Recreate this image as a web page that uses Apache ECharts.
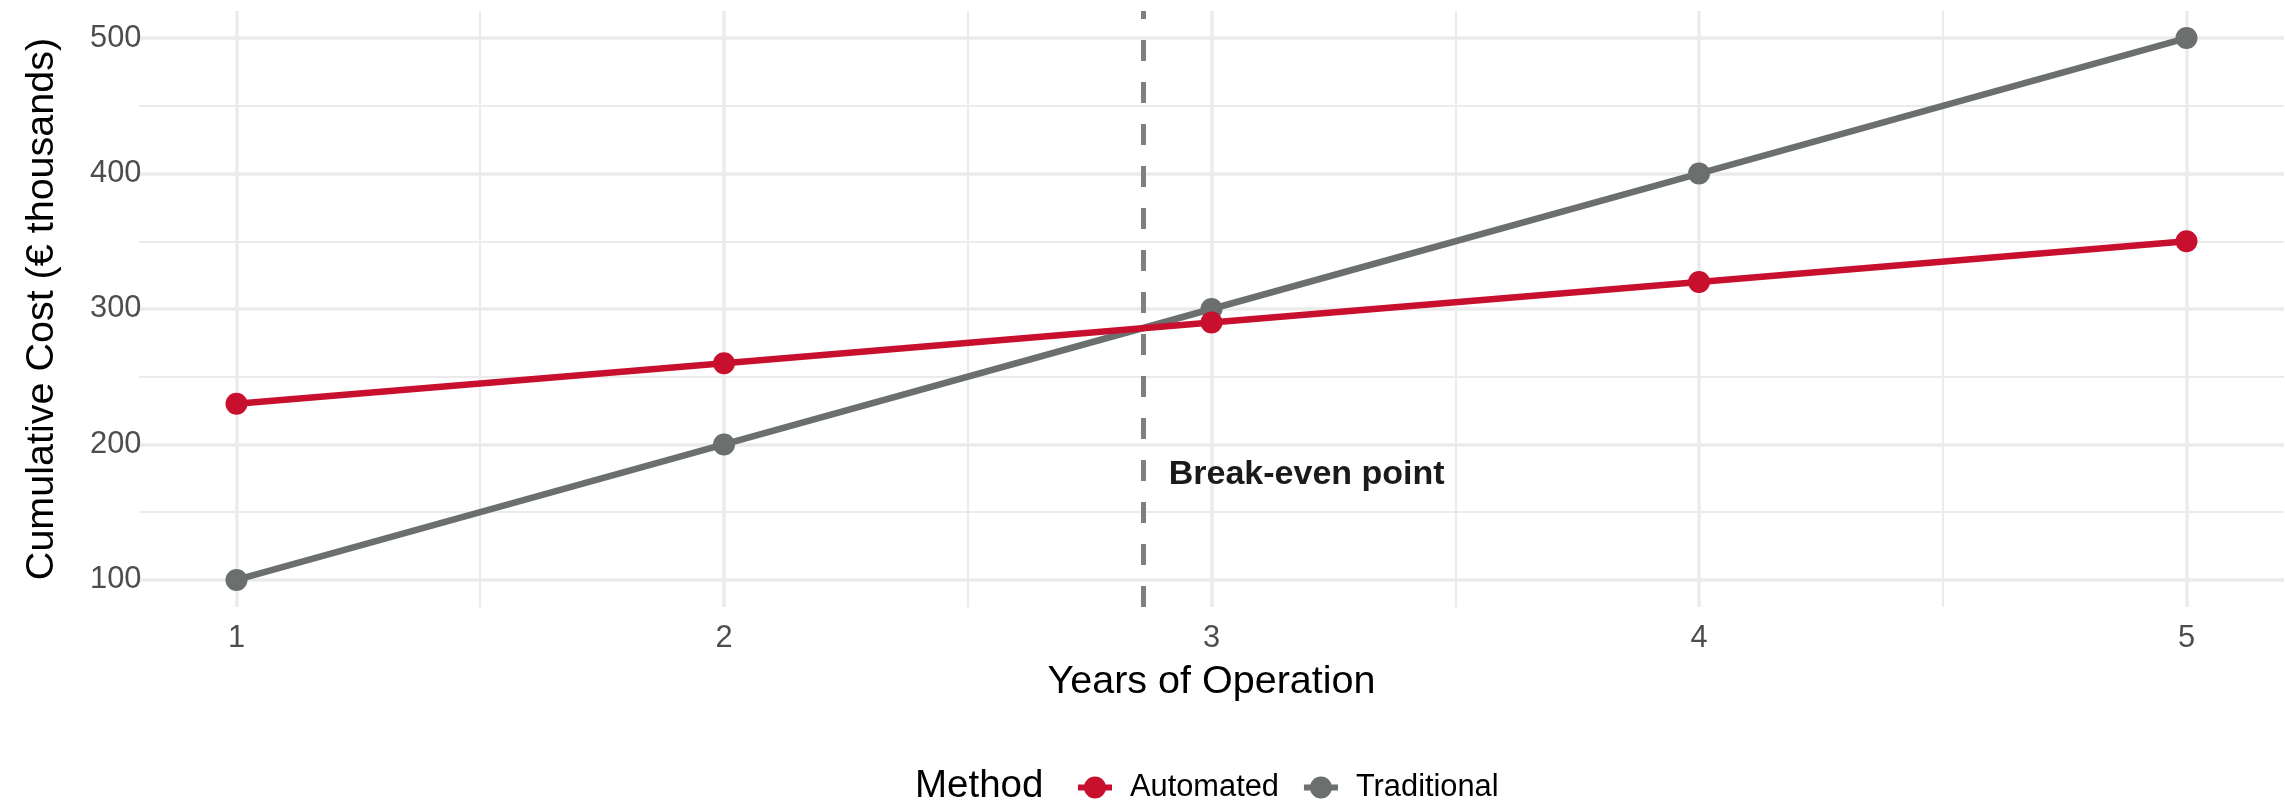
<!DOCTYPE html>
<html>
<head>
<meta charset="utf-8">
<script src="https://cdn.jsdelivr.net/npm/echarts@6/dist/echarts.min.js"></script>
<style>
  html, body { margin: 0; padding: 0; background: #fff; }
  #chart { width: 2285px; height: 801px; }
</style>
</head>
<body>
<div id="chart"></div>
<script>
const years = [1, 2, 3, 4, 5];
const automated = [230, 260, 290, 320, 350];
const traditional = [100, 200, 300, 400, 500];
const xMajorTicks = [1, 2, 3, 4, 5];
const xMinorTicks = [1.5, 2.5, 3.5, 4.5];
const yMajorTicks = [100, 200, 300, 400, 500];
const yMinorTicks = [150, 250, 350, 450];
const breakEvenText = 'Break-even point';
const breakEvenTextY = 180;

const RED = '#C8102E';
const GREY = '#6B6F6E';
const GRID = '#EBEBEB';
const FONT = '"Liberation Sans", Helvetica, Arial, sans-serif';
// legend key: short thick line with a dot on it
const KEY_ICON = 'path://M0,8 L34,8 L34,14 L0,14 Z M6,11 A11,11 0 1,1 28,11 A11,11 0 1,1 6,11 Z';

// where automated becomes cheaper than traditional
let breakEven = null;
for (let i = 0; i < years.length - 1; i++) {
    const d0 = automated[i] - traditional[i];
    const d1 = automated[i + 1] - traditional[i + 1];
    if (d0 > 0 && d1 <= 0) {
        breakEven = years[i] + (years[i + 1] - years[i]) * d0 / (d0 - d1);
        break;
    }
}

const toPairs = vals => years.map((x, i) => [x, vals[i]]);

function gridAxis(min, max, ticks, width, position) {
    return {
        type: 'value', min: min, max: max, position: position, offset: 0,
        axisLine: { show: false },
        axisTick: { show: false, customValues: ticks },
        axisLabel: { show: false, customValues: ticks },
        splitLine: { show: true, lineStyle: { color: GRID, width: width } }
    };
}

const xMain = gridAxis(0.8, 5.2, xMajorTicks, 3.5, 'bottom');
xMain.name = 'Years of Operation';
xMain.nameLocation = 'middle';
xMain.nameGap = 55;
xMain.nameTextStyle = { fontSize: 39.5, color: '#000', fontFamily: FONT };
xMain.axisLabel = { show: true, customValues: xMajorTicks, fontSize: 30.8, color: '#4D4D4D', margin: 16, fontFamily: FONT };
const xMinor = gridAxis(0.8, 5.2, xMinorTicks, 2, 'bottom');

const yMain = gridAxis(80, 520, yMajorTicks, 3.5, 'left');
yMain.name = 'Cumulative Cost (€ thousands)';
yMain.nameLocation = 'middle';
yMain.nameGap = 77;
yMain.nameTextStyle = { fontSize: 39.5, color: '#000', fontFamily: FONT };
// any positive margin pushes these labels ~40px further out, so keep them at the axis
yMain.axisLabel = { show: true, customValues: yMajorTicks, fontSize: 30.8, color: '#4D4D4D', margin: -2.5, align: 'right', fontFamily: FONT };
const yMinor = gridAxis(80, 520, yMinorTicks, 2, 'left');

let chart = echarts.init(document.getElementById('chart'), null, { renderer: 'canvas' });
chart.setOption({
    animation: false,
    textStyle: { fontFamily: FONT },
    grid: { left: 139, right: 1, top: 11, bottom: 194 },
    xAxis: [xMain, xMinor],
    yAxis: [yMain, yMinor],
    legend: {
        data: [
            { name: 'Automated', icon: KEY_ICON },
            { name: 'Traditional', icon: KEY_ICON }
        ],
        left: 1073, top: 767,
        itemWidth: 34, itemHeight: 22, itemGap: 25,
        selectedMode: false,
        textStyle: { fontSize: 30.8, color: '#000', padding: [0, 0, 0, 13], fontFamily: FONT }
    },
    graphic: [{
        type: 'text', x: 915, y: 786,
        style: { text: 'Method', fontSize: 38.5, fill: '#000', verticalAlign: 'middle', align: 'left', fontFamily: FONT }
    }],
    series: [{
        name: 'Traditional',
        type: 'line',
        data: toPairs(traditional),
        symbol: 'circle', symbolSize: 22,
        lineStyle: { width: 6.5, color: GREY },
        itemStyle: { color: GREY },
        emphasis: { disabled: true },
        markLine: {
            silent: true, symbol: 'none',
            label: { show: false },
            lineStyle: { type: [21, 21], width: 5, color: '#7F7F7F' },
            data: [{ xAxis: breakEven }]
        }
    }, {
        name: 'Automated',
        type: 'line',
        data: toPairs(automated),
        symbol: 'circle', symbolSize: 22,
        lineStyle: { width: 6.5, color: RED },
        itemStyle: { color: RED },
        emphasis: { disabled: true },
        markPoint: {
            silent: true, symbol: 'circle', symbolSize: 1,
            itemStyle: { color: 'rgba(0,0,0,0)' },
            label: {
                show: true, position: 'right', distance: 2, offset: [0, 3],
                formatter: breakEvenText,
                fontSize: 34, fontWeight: 'bold', color: '#1A1A1A', fontFamily: FONT
            },
            data: [{ coord: [breakEven + 0.05, breakEvenTextY] }]
        }
    }]
});
</script>
</body>
</html>
